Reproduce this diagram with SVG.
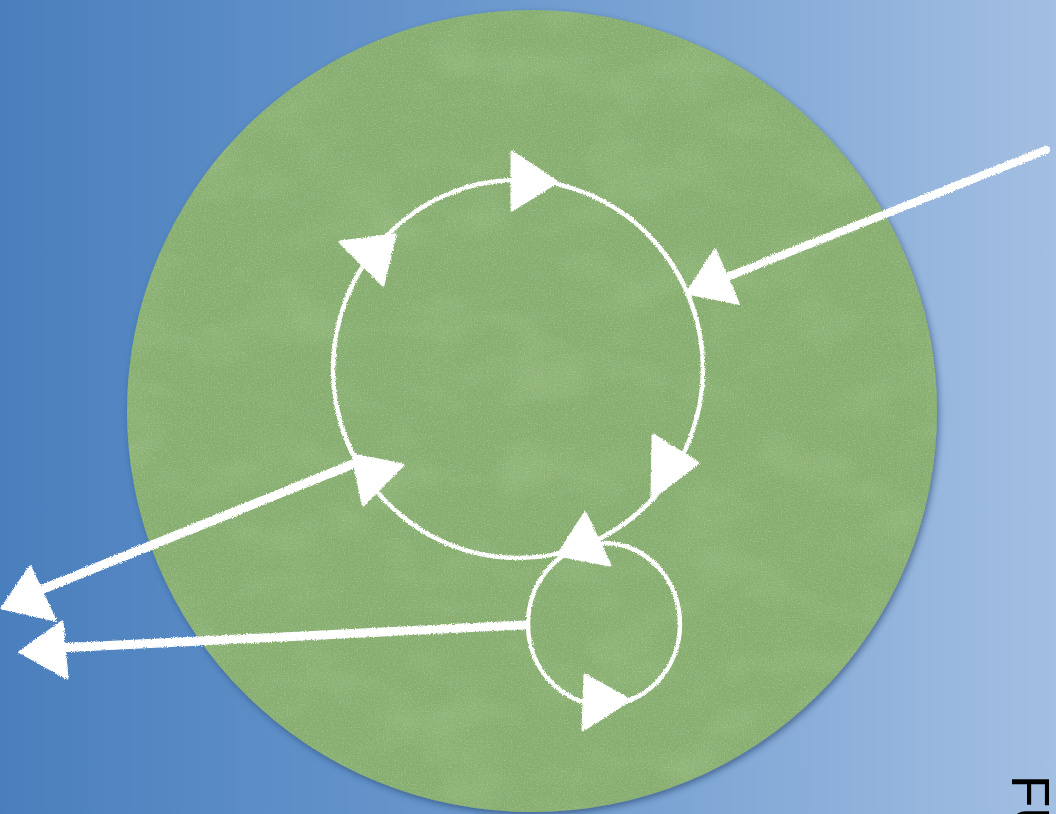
<svg xmlns="http://www.w3.org/2000/svg" width="1056" height="814" viewBox="0 0 1056 814">
<defs>
<linearGradient id="bg" x1="0" y1="0" x2="1" y2="0">
<stop offset="0" stop-color="#4a7fbd"/>
<stop offset="0.5" stop-color="#6e9bcf"/>
<stop offset="1" stop-color="#a3bfe2"/>
</linearGradient>
<filter id="shadow" x="-10%" y="-10%" width="120%" height="120%">
<feDropShadow dx="2" dy="3" stdDeviation="3" flood-color="#1c3a66" flood-opacity="0.55"/>
</filter>
<filter id="grain" x="0" y="0" width="100%" height="100%">
<feTurbulence type="fractalNoise" baseFrequency="0.012 0.02" numOctaves="3" seed="7" result="big"/>
<feColorMatrix in="big" type="matrix" values="0 0 0 0 0.35  0 0 0 0 0.55  0 0 0 0 0.25  0 0 0 1.6 -0.75" result="blot"/>
<feTurbulence type="fractalNoise" baseFrequency="0.7" numOctaves="2" seed="2" result="fine"/>
<feColorMatrix in="fine" type="matrix" values="0 0 0 0 0.75  0 0 0 0 0.85  0 0 0 0 0.65  0 0 0 1.2 -0.55" result="speck"/>
<feMerge result="m"><feMergeNode in="blot"/><feMergeNode in="speck"/></feMerge>
<feComposite in="m" in2="SourceAlpha" operator="in"/>
</filter>
<filter id="chalk" x="-5%" y="-5%" width="110%" height="110%">
<feTurbulence type="fractalNoise" baseFrequency="0.9" numOctaves="2" seed="4" result="n"/>
<feDisplacementMap in="SourceGraphic" in2="n" scale="3.5" xChannelSelector="R" yChannelSelector="G"/>
</filter>
<style>
.chalk{stroke:#ffffff;fill:none;stroke-linecap:round;stroke-linejoin:round}
.head{fill:#ffffff;stroke:#ffffff;stroke-width:3;stroke-linejoin:round}
.label{font-family:"Liberation Sans",Arial,sans-serif;font-size:53px;fill:#000000}
</style>
</defs>
<rect width="1056" height="814" fill="url(#bg)"/>
<g id="disc">
<ellipse cx="532" cy="411" rx="405" ry="401" fill="#87ae6f" filter="url(#shadow)"/>
<ellipse cx="532" cy="411" rx="405" ry="401" fill="#87ae6f" filter="url(#grain)" opacity="0.55"/>
</g>
<g id="connectors" filter="url(#chalk)">
<g id="main-loop">
<ellipse class="chalk" cx="518" cy="369" rx="185" ry="189" stroke-width="4.5"/>
<polygon class="head" points="512,152 512,210 557,182"/>
<polygon class="head" points="340,242 395,235 383,285"/>
<polygon class="head" points="653,435 698,463 652,498"/>
<polygon class="head" points="353,455 403,465 363,505"/>
<polygon class="head" points="585,513 558,555 610,565"/>
</g>
<g id="small-loop">
<ellipse class="chalk" cx="604" cy="624" rx="76" ry="81" stroke-width="4.5"/>
<polygon class="head" points="585,675 583,730 630,700"/>
</g>
<g id="input-arrow">
<line class="chalk" x1="1046" y1="150" x2="712" y2="283" stroke-width="8"/>
<polygon class="head" points="715,250 687,293 738,303"/>
</g>
<g id="output-arrow-1">
<line class="chalk" x1="358" y1="462" x2="38" y2="591" stroke-width="9"/>
<polygon class="head" points="30,567 2,608 55,620"/>
</g>
<g id="output-arrow-2">
<line class="chalk" x1="524" y1="625" x2="58" y2="648" stroke-width="9"/>
<polygon class="head" points="62,622 20,652 67,678"/>
</g>
</g>
<g id="title">
<text class="label" transform="translate(1012,775) rotate(90)">FU</text>
</g>
</svg>
